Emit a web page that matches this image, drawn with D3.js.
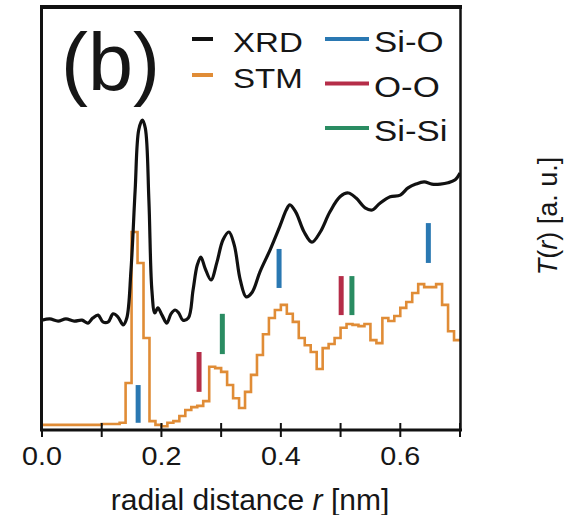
<!DOCTYPE html>
<html>
<head>
<meta charset="utf-8">
<script src="https://cdn.jsdelivr.net/npm/d3@7"></script>
<style>
  body { margin: 0; background: #fff; }
  text { font-family: "Liberation Sans", Arial, sans-serif; fill: #161616; }
</style>
</head>
<body>
<div id="chart"></div>
<script>
// XRD total correlation (r in nm, a.u.)
const xrdR = [0.000,0.013,0.027,0.040,0.054,0.067,0.077,0.085,0.094,0.102,0.111,0.119,0.127,0.136,0.142,
  0.149,0.156,0.162,0.168,0.173,0.179,0.184,0.189,0.194,0.201,0.209,0.216,0.223,0.229,0.236,0.245,
  0.253,0.260,0.266,0.273,0.283,0.293,0.303,0.313,0.322,0.332,0.342,0.352,0.365,0.382,0.399,0.409,
  0.415,0.425,0.439,0.452,0.466,0.482,0.499,0.513,0.526,0.541,0.553,0.566,0.583,0.600,0.613,0.626,
  0.640,0.653,0.667,0.680,0.692,0.700];
const xrdT = [25.9,26.2,25.7,26.2,25.7,25.9,25.2,26.4,27.1,25.5,25.5,27.4,26.7,24.8,26.4,
  37.7,56.6,70.8,73.1,71.2,54.2,33.0,27.6,28.8,27.1,25.2,27.4,28.3,27.6,25.9,26.4,
  33.0,38.9,40.8,38.2,35.4,39.6,44.8,46.7,43.6,35.4,31.4,32.5,37.3,42.5,48.3,51.9,
  53.1,51.4,46.7,44.3,46.7,51.4,55.0,55.9,54.7,52.4,51.9,53.5,55.0,55.4,57.1,58.0,
  58.5,58.0,58.0,58.3,59.0,60.6];

// STM histogram, bins of 0.01 nm starting at 0
const stmBin = 0.01;
const stmT = [1.2,1.2,1.2,1.2,1.2,1.2,1.2,1.2,1.2,1.2,
  1.4,1.4,1.4,1.7,11.1,46.7,39.4,21.7,2.1,1.2,
  0.9,1.7,2.1,3.3,4.7,5.4,5.7,6.8,14.9,14.6,
  13.7,10.6,7.5,5.2,9.0,13.0,17.7,22.6,26.4,28.3,
  29.5,27.4,25.5,21.7,20.0,18.4,14.4,19.3,20.3,21.7,
  24.1,25.0,24.8,24.5,25.0,21.2,20.5,26.4,25.7,26.9,
  28.8,30.2,32.3,34.4,33.7,33.7,34.4,29.5,23.3,21.2];

// bond-distance markers
const bondType = ["Si-O","O-O","Si-Si","Si-O","O-O","Si-Si","Si-O"];
const bondR    = [0.161,0.263,0.302,0.397,0.501,0.519,0.647];
const bondLo   = [1.7,9.0,17.9,33.5,27.1,27.1,39.4];
const bondHi   = [10.6,18.4,27.4,42.7,36.3,36.3,48.8];

const xTicks = [0,0.1,0.2,0.3,0.4,0.5,0.6,0.7];
const xLabels = [0,0.2,0.4,0.6];
const bondColor = {"Si-O": "#2a78b2", "O-O": "#b52d48", "Si-Si": "#2a8c62"};

const W = 565, H = 515;
const svg = d3.select("#chart").append("svg").attr("width", W).attr("height", H);

const x = d3.scaleLinear().domain([0, 0.7]).range([42, 460]);
const y = d3.scaleLinear().domain([0, 100]).range([430, 6]);

svg.append("clipPath").attr("id", "plot")
  .append("rect").attr("x", 42).attr("y", 6).attr("width", 419).attr("height", 424);

const g = svg.append("g").attr("clip-path", "url(#plot)");

// STM step line
const stmPts = stmT.map((v, i) => [i * stmBin, v]);
stmPts.push([stmT.length * stmBin, stmT[stmT.length - 1]]);
g.append("path")
  .attr("d", d3.line().x(d => x(d[0])).y(d => y(d[1])).curve(d3.curveStepAfter)(stmPts))
  .attr("fill", "none").attr("stroke", "#e08c36").attr("stroke-width", 2.6);

// XRD line
g.append("path")
  .attr("d", d3.line().x((d, i) => x(xrdR[i])).y(d => y(d)).curve(d3.curveCatmullRom)(xrdT))
  .attr("fill", "none").attr("stroke", "#111").attr("stroke-width", 3.2).attr("stroke-linejoin", "round");

// bond markers
g.selectAll("line.bond").data(bondR).enter().append("line")
  .attr("class", "bond")
  .attr("x1", d => x(d)).attr("x2", d => x(d))
  .attr("y1", (d, i) => y(bondLo[i])).attr("y2", (d, i) => y(bondHi[i]))
  .attr("stroke", (d, i) => bondColor[bondType[i]]).attr("stroke-width", 5);

// frame
svg.append("line").attr("x1", 40).attr("x2", 462).attr("y1", 7).attr("y2", 7)
  .attr("stroke", "#111").attr("stroke-width", 4);
svg.append("line").attr("x1", 41.5).attr("x2", 41.5).attr("y1", 6).attr("y2", 431)
  .attr("stroke", "#111").attr("stroke-width", 3);
svg.append("line").attr("x1", 460.5).attr("x2", 460.5).attr("y1", 6).attr("y2", 431)
  .attr("stroke", "#111").attr("stroke-width", 2.5);

// x axis
const xAxis = svg.append("g").attr("transform", "translate(0,430)");
xAxis.append("line").attr("x1", 40).attr("x2", 462).attr("stroke", "#111").attr("stroke-width", 3);
xAxis.selectAll("line.tick").data(xTicks).enter().append("line")
  .attr("class", "tick")
  .attr("x1", d => x(d)).attr("x2", d => x(d)).attr("y1", -7).attr("y2", 7)
  .attr("stroke", "#111").attr("stroke-width", 2);
xAxis.selectAll("text").data(xLabels).enter().append("text")
  .attr("transform", d => `translate(${x(d)},35) scale(1.15,1)`)
  .attr("text-anchor", "middle").attr("font-size", 25)
  .text(d3.format(".1f"));

svg.append("text").attr("x", 250).attr("y", 510).attr("text-anchor", "middle")
  .attr("font-size", 30)
  .call(t => {
    t.append("tspan").text("radial distance ");
    t.append("tspan").attr("font-style", "italic").text("r");
    t.append("tspan").text(" [nm]");
  });

// panel tag
svg.append("text").attr("x", 61).attr("y", 90).attr("font-size", 81).text("(b)");

// legend: curves
const curveKeys = ["XRD", "STM"], curveColors = ["#111", "#e08c36"];
curveKeys.forEach((k, i) => {
  const yy = 39 + i * 36;
  svg.append("line").attr("x1", 192).attr("x2", 213).attr("y1", yy).attr("y2", yy)
    .attr("stroke", curveColors[i]).attr("stroke-width", 4);
  svg.append("text").attr("transform", `translate(233,${yy + 13}) scale(1.18,1)`)
    .attr("font-size", 28).text(k);
});

// legend: bonds
["Si-O", "O-O", "Si-Si"].forEach((k, i) => {
  const yy = 39 + i * 44.5;
  svg.append("line").attr("x1", 325).attr("x2", 369).attr("y1", yy).attr("y2", yy)
    .attr("stroke", bondColor[k]).attr("stroke-width", 4);
  svg.append("text").attr("transform", `translate(374,${yy + 13}) scale(1.2,1)`)
    .attr("font-size", 29).text(k);
});

// y label of the neighbouring panel
svg.append("text")
  .attr("transform", "translate(557,216) rotate(-90)")
  .attr("text-anchor", "middle").attr("font-size", 27)
  .call(t => {
    t.append("tspan").attr("font-style", "italic").text("T");
    t.append("tspan").text("(");
    t.append("tspan").attr("font-style", "italic").text("r");
    t.append("tspan").text(") [a. u.]");
  });
</script>
</body>
</html>
